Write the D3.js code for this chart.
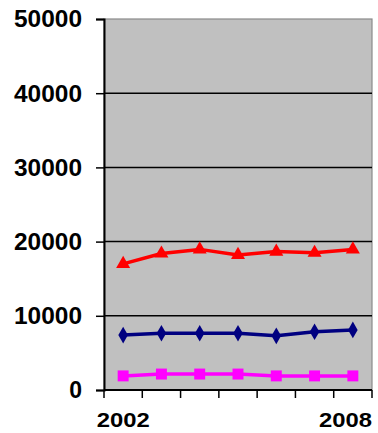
<!DOCTYPE html>
<html>
<head>
<meta charset="utf-8">
<script src="https://cdn.jsdelivr.net/npm/d3@7"></script>
<style>
  html, body { margin: 0; padding: 0; background: #fff; }
  svg { display: block; }
</style>
</head>
<body>
<svg id="chart" width="378" height="433"></svg>
<script>
// Years on the category axis; only the first and last are labelled
const years = ["2002", "2003", "2004", "2005", "2006", "2007", "2008"];
const xTickLabels = ["2002", "", "", "", "", "", "2008"];
const yTicks = [0, 10000, 20000, 30000, 40000, 50000];

// Series values
const redSeries = [17000, 18400, 18950, 18200, 18650, 18500, 18950];
const navySeries = [7400, 7650, 7650, 7650, 7300, 7850, 8100];
const magentaSeries = [1900, 2150, 2150, 2150, 1900, 1900, 1900];

const W = 378, H = 433;
const plot = { left: 104, right: 372, top: 19, bottom: 390 };
const FONT = "'Liberation Sans', Arial, sans-serif";

const svg = d3.select("#chart");

const x = d3.scaleBand().domain(years).range([plot.left, plot.right]).padding(0);
const y = d3.scaleLinear().domain([0, 50000]).range([plot.bottom, plot.top]);

// Plot area background
svg.append("rect")
  .attr("x", plot.left).attr("y", plot.top)
  .attr("width", plot.right - plot.left).attr("height", plot.bottom - plot.top)
  .attr("fill", "#c0c0c0")
  .attr("stroke", "#8a8a8a").attr("stroke-width", 1.2);

// Horizontal gridlines
svg.append("g").selectAll("line")
  .data(yTicks.filter(d => d > 0 && d < 50000))
  .join("line")
  .attr("x1", plot.left).attr("x2", plot.right)
  .attr("y1", d => y(d)).attr("y2", d => y(d))
  .attr("stroke", "#000").attr("stroke-width", 1.5);

// Y axis
const yAxis = svg.append("g")
  .attr("transform", `translate(${plot.left},0)`)
  .call(d3.axisLeft(y).tickValues(yTicks).tickSize(8).tickPadding(14).tickFormat(d3.format("d")));
yAxis.select(".domain").attr("stroke", "#000").attr("stroke-width", 2);
yAxis.selectAll(".tick line").attr("stroke", "#000").attr("stroke-width", 1.5);
yAxis.selectAll(".tick text")
  .attr("font-size", 23).attr("font-family", FONT)
  .attr("font-weight", "bold").attr("fill", "#000")
  .attr("textLength", 68).attr("lengthAdjust", "spacingAndGlyphs")
  .attr("dy", "0.34em")
  .each(function (d) {
    if (d === 0) d3.select(this).attr("textLength", null);
  });

// X axis line and tick marks at category boundaries
const boundaries = years.map(d => x(d)).concat([x.range()[1]]);
svg.append("line")
  .attr("x1", plot.left).attr("x2", plot.right)
  .attr("y1", plot.bottom).attr("y2", plot.bottom)
  .attr("stroke", "#000").attr("stroke-width", 2);
svg.append("g").selectAll("line")
  .data(boundaries)
  .join("line")
  .attr("x1", d => d).attr("x2", d => d)
  .attr("y1", plot.bottom).attr("y2", plot.bottom + 8)
  .attr("stroke", "#000").attr("stroke-width", 1.5);

// X tick labels, kept inside the drawing width
svg.append("g").selectAll("text")
  .data(years.map((d, i) => ({ year: d, label: xTickLabels[i] })).filter(d => d.label))
  .join("text")
  .attr("font-size", 20).attr("font-family", FONT).attr("font-weight", "bold")
  .attr("fill", "#000")
  .attr("text-anchor", "middle")
  .attr("y", 427)
  .attr("textLength", 53).attr("lengthAdjust", "spacingAndGlyphs")
  .text(d => d.label)
  .attr("x", function (d) {
    const c = x(d.year) + x.bandwidth() / 2;
    return Math.min(c, W - 6 - 53 / 2);
  });

const cx = (d, i) => x(years[i]) + x.bandwidth() / 2;
const line = d3.line().x((d, i) => cx(d, i)).y(d => y(d));

function drawSeries(values, color, symbolType, size) {
  const g = svg.append("g");
  g.append("path")
    .datum(values)
    .attr("d", line)
    .attr("fill", "none")
    .attr("stroke", color)
    .attr("stroke-width", 3.5)
    .attr("stroke-linejoin", "round");
  g.selectAll("path.marker")
    .data(values)
    .join("path")
    .attr("class", "marker")
    .attr("transform", (d, i) => `translate(${cx(d, i)},${y(d)})`)
    .attr("d", d3.symbol().type(symbolType).size(size))
    .attr("fill", color);
}

drawSeries(magentaSeries, "#ff00ff", d3.symbolSquare, 120);
drawSeries(navySeries, "#000080", d3.symbolDiamond, 80);
drawSeries(redSeries, "#ff0000", d3.symbolTriangle, 85);
</script>
</body>
</html>
